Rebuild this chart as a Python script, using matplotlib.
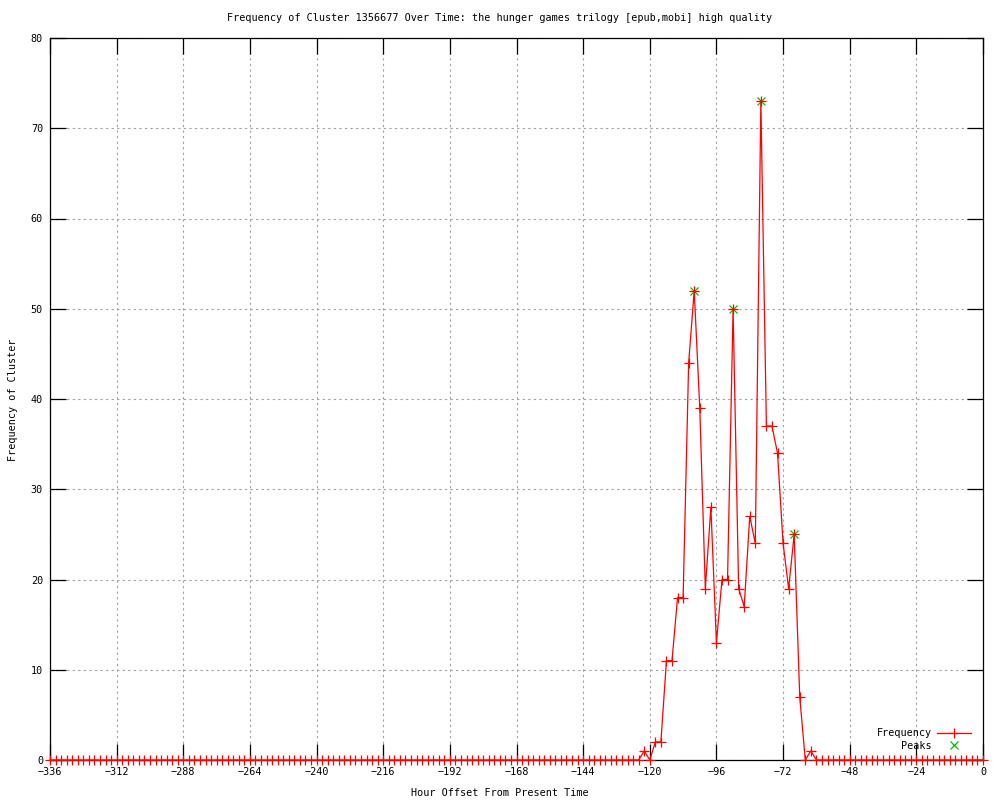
import numpy as np
import matplotlib
matplotlib.use("Agg")
import matplotlib.pyplot as plt

plt.rcParams['font.family'] = ['DejaVu Sans Mono']
plt.rcParams['font.size'] = 7.3

# hourly offsets, one sample every 2 hours
hours = np.arange(-336, 1, 2)
# counts: zeros before -122 and after -62
cluster = [1, 0, 2, 2, 11, 11, 18, 18, 44, 52, 39, 19, 28, 13, 20, 20,
           50, 19, 17, 27, 24, 73, 37, 37, 34, 24, 19, 25, 7, 0, 1]
freq = [0] * 107 + cluster + [0] * 31

peak_x = [-104, -90, -80, -68]
peak_y = [52, 50, 73, 25]

xticks = list(range(-336, 1, 24))
yticks = list(range(0, 81, 10))

fig = plt.figure(figsize=(10, 8), dpi=100)
ax = fig.add_axes([0.05, 0.05, 0.933, 0.9025])

ax.plot(peak_x, peak_y, linestyle='none', marker='x', color='#00c000',
        markersize=6, markeredgewidth=0.9, label='Peaks', clip_on=False, zorder=3)
ax.plot(hours, freq, color='red', linewidth=0.9, marker='+', markersize=7,
        markeredgewidth=0.9, label='Frequency', clip_on=False, zorder=4)

ax.set_xlim(-336, 0)
ax.set_ylim(0, 80)
ax.set_xticks(xticks)
ax.set_yticks(yticks)
ax.set_xticklabels([str(t).replace('-', '\u2212') for t in xticks])
ax.tick_params(direction='in', length=11.5, width=0.9, top=True, right=True,
               labeltop=False, labelright=False, pad=5)
for s in ax.spines.values():
    s.set_linewidth(0.9)
ax.grid(True, color='#a0a0a0', linestyle=(0, (2, 3)), linewidth=0.8)
ax.set_axisbelow(True)

fig.text(0.5, 1 - 18 / 800, 'Frequency of Cluster 1356677 Over Time: the hunger games trilogy [epub,mobi] high quality',
         ha='center', va='center')
fig.text(0.5, 1 - 793 / 800, 'Hour Offset From Present Time', ha='center', va='center')
fig.text(0.013, 0.5, 'Frequency of Cluster', rotation=90, ha='center', va='center')

handles, labels = ax.get_legend_handles_labels()
ax.legend(handles[::-1], labels[::-1], loc='lower right', frameon=False,
          markerfirst=False, handlelength=3.4, handletextpad=0.5,
          labelspacing=0.25, borderaxespad=0.3, bbox_to_anchor=(0.995, 0.003))

fig.savefig('out.png', dpi=100)
